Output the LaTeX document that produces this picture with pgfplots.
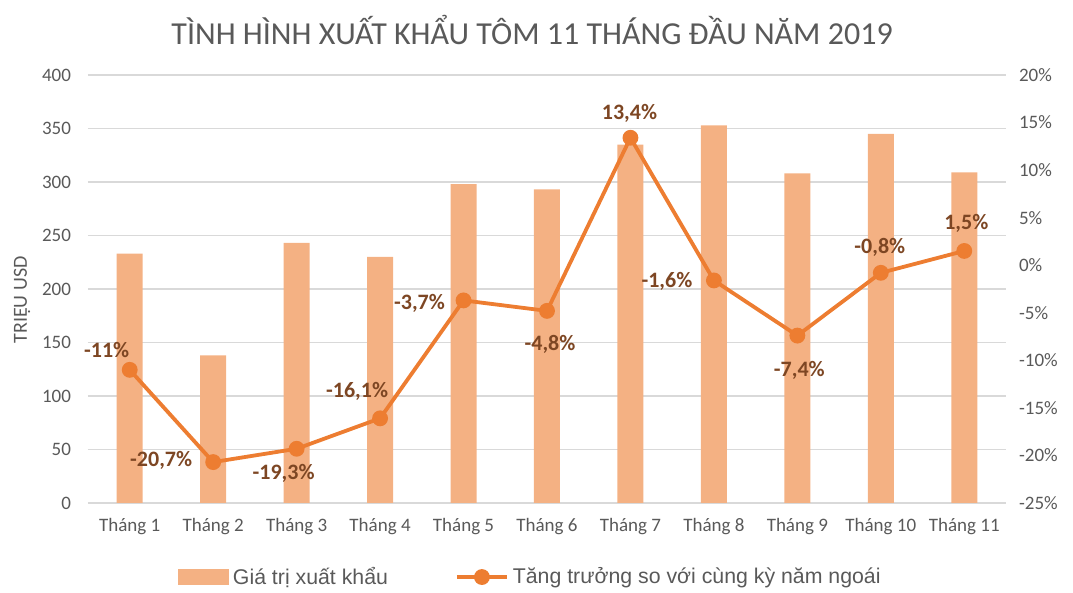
\documentclass[border=0pt]{standalone}
\usepackage{fontspec}
\setmainfont{Carlito}
\newfontfamily\arialfont{Liberation Sans}
\usepackage{pgfplots}
\usepackage{pgfplotstable}
\pgfplotsset{compat=1.18}
\definecolor{barc}{HTML}{F4B183}
\definecolor{linec}{HTML}{ED7D31}
\definecolor{labc}{RGB}{125,70,35}
\definecolor{txtc}{HTML}{595959}
\definecolor{gridc}{HTML}{D9D9D9}

\pgfplotstableread{
x val
0 233
1 138
2 243
3 230
4 298
5 293
6 335
7 353
8 308
9 345
10 309
}\bars

\pgfplotstableread{
x g lab dx dy
0 -11 -11 -11.5 10
1 -20.7 -20,7 -26 1
2 -19.3 -19,3 -6.5 -12.5
3 -16.1 -16,1 -11.5 13.5
4 -3.7 -3,7 -22 -1.5
5 -4.8 -4,8 1.5 -17
6 13.4 13,4 -0.5 12
7 -1.6 -1,6 -23.5 -0.5
8 -7.4 -7,4 1 -17.5
9 -0.8 -0,8 -0.5 12.5
10 1.5 1,5 1 14
}\growth

\begin{document}
\begin{tikzpicture}
\begin{axis}[
  scale only axis, width=459pt, height=214pt,
  xmin=-0.5, xmax=10.5, ymin=0, ymax=400,
  xtick={0,1,2,3,4,5,6,7,8,9,10},
  xticklabels={Tháng 1,Tháng 2,Tháng 3,Tháng 4,Tháng 5,Tháng 6,Tháng 7,Tháng 8,Tháng 9,Tháng 10,Tháng 11},
  ytick={0,50,100,150,200,250,300,350,400},
  axis line style={draw=none},
  ymajorgrids, grid style={gridc, line width=0.7pt},
  major tick length=0pt,
  tick label style={font=\fontsize{9.5}{11}\selectfont, text=txtc},
  /pgf/number format/assume math mode=true,
  yticklabel style={xshift=-5pt},
  xticklabel style={yshift=-4pt},
  ybar, bar width=13pt,
]
\addplot[fill=barc, draw=none] table[x=x,y=val]{\bars};
\end{axis}
\begin{axis}[
  scale only axis, width=459pt, height=214pt,
  xmin=-0.5, xmax=10.5, ymin=-25, ymax=20,
  axis x line=none, axis y line*=right,
  y axis line style={draw=none},
  ytick={-25,-20,-15,-10,-5,0,5,10,15,20},
  yticklabels={-25\%,-20\%,-15\%,-10\%,-5\%,0\%,5\%,10\%,15\%,20\%},
  major tick length=0pt,
  tick label style={font=\fontsize{9.5}{11}\selectfont, text=txtc},
  yticklabel style={xshift=3pt},
  legend style={at={(0.483,-0.173)}, anchor=center, draw=none, fill=none,
    font=\arialfont\fontsize{10.65}{12}\selectfont, text=txtc,
    /tikz/every even column/.append style={column sep=31.5pt}},
  legend columns=2,
]
\addlegendimage{legend image code/.code={\fill[barc] (-1pt,-3.8pt) rectangle (24pt,3.8pt);}}
\addlegendentry{Giá trị xuất khẩu}
\addplot[linec, line width=1.9pt, mark=*, mark size=3pt, mark options={fill=linec, draw=linec},
  legend image code/.code={\draw[linec, line width=1.9pt] (0pt,0pt) -- (25pt,0pt); \fill[linec] (12.5pt,0pt) circle (3pt);},
  point meta=explicit symbolic,
  visualization depends on={\thisrow{dx} \as \dx},
  visualization depends on={\thisrow{dy} \as \dy},
  nodes near coords={\pgfplotspointmeta\%},
  every node near coord/.append style={anchor=center, xshift=\dx pt, yshift=\dy pt,
    font=\bfseries\fontsize{11}{13}\selectfont, text=labc},
] table[x=x,y=g,meta=lab]{\growth};
\addlegendentry{Tăng trưởng so với cùng kỳ năm ngoái}
\end{axis}
\node[font=\fontsize{16}{19}\selectfont, text=txtc] at (222pt,236.5pt) {TÌNH HÌNH XUẤT KHẨU TÔM 11 THÁNG ĐẦU NĂM 2019};
\node[rotate=90, font=\fontsize{10}{12}\selectfont, text=txtc] at (-33pt,101.5pt) {TRIỆU USD};
\pgfresetboundingbox
\useasboundingbox (-44pt,-45pt) rectangle (492.5pt,251.5pt);
\end{tikzpicture}
\end{document}
